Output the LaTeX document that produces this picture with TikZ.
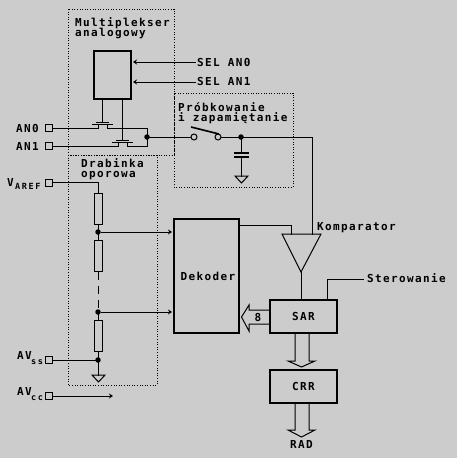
\documentclass[tikz,border=0pt]{standalone}
\usepackage{fontspec}
\usetikzlibrary{arrows.meta}
\newfontfamily\pixfont[LetterSpace=12.5]{DejaVu Sans Mono}
\newfontfamily\pixsub[LetterSpace=19]{DejaVu Sans Mono}
\definecolor{bgc}{HTML}{CCCCCC}
\tikzset{
  wire/.style={line width=1pt,line cap=rect},
  tipwire/.style={line width=1pt,-{Stealth[length=4pt,width=5pt]},shorten >=1pt},
  blockbox/.style={draw,line width=2pt,inner sep=0pt},
  zone/.style={draw,line width=1pt,dash pattern=on 1pt off 1.6pt},
  pinbox/.style={draw,line width=1pt,minimum size=7pt,inner sep=0pt},
  dotn/.style={circle,fill=black,minimum size=5.5pt,inner sep=0pt},
  resbox/.style={draw,line width=1pt,minimum width=8pt,minimum height=31pt,inner sep=0pt},
  contact/.style={circle,draw,line width=1pt,minimum size=6pt,inner sep=0pt},
  lab/.style={anchor=base west,inner sep=0pt,font=\fontsize{11}{13}\selectfont\pixfont\bfseries},
  labm/.style={anchor=base west,inner sep=0pt,align=left,font=\fontsize{11}{10}\selectfont\pixfont\bfseries,/utils/exec={\lineskiplimit=-10pt}},
  labc/.style={anchor=base,inner sep=0pt,font=\fontsize{11}{13}\selectfont\pixfont\bfseries},
  subl/.style={anchor=base west,inner sep=0pt,font=\fontsize{8.5}{10}\selectfont\pixsub\bfseries},
  gndt/.style={draw,line width=1pt,line join=miter}
}
\begin{document}
\begin{tikzpicture}[x=1pt,y=-1pt]
\useasboundingbox[fill=bgc] (0,0) rectangle (457,458);
% zones
\draw[zone] (68,9) rectangle (174,155);
\draw[zone] (68,155) rectangle (157,385);
\draw[zone] (174,93) rectangle (293,187);
% blocks
\node[blockbox,minimum width=37pt,minimum height=48pt] (mux) at (112.5,75) {};
\node[blockbox,minimum width=65pt,minimum height=114pt] (dek) at (206.5,276) {};
\node[blockbox,minimum width=67pt,minimum height=33pt] (sar) at (303.5,316.5) {};
\node[blockbox,minimum width=67pt,minimum height=33pt] (crr) at (303.5,386.5) {};
% pins
\node[pinbox] (pan0) at (48.5,128) {};
\node[pinbox] (pan1) at (48.5,146) {};
\node[pinbox] (pref) at (48.5,182.5) {};
\node[pinbox] (pss) at (48.5,360) {};
\node[pinbox] (pcc) at (48.5,396) {};
% SEL lines
\coordinate (sel0) at (196,62);
\coordinate (sel1) at (196,82);
\draw[tipwire] (sel0) -- (sel0 -| mux.east);
\draw[tipwire] (sel1) -- (sel1 -| mux.east);
% transistors
\coordinate (g0) at (102,122);
\coordinate (g1) at (122,140.5);
\coordinate (mo) at (147,128);
\coordinate (m1) at (147,146);
\node[dotn] (mj) at (147,137) {};
\draw[wire] (g0 |- mux.south) -- (g0);
\draw[wire] (g1 |- mux.south) -- (g1);
\draw[wire] (96,122) -- (108,122);
\draw[wire] (116,140.5) -- (128,140.5);
\draw[wire] (92,124.5) -- (112,124.5);
\draw[wire] (112,142.5) -- (132,142.5);
\draw[wire] (pan0.east) -- (98,128) -- (98,124.5);
\draw[wire] (107,124.5) -- (107,128) -- (mo) -- (m1) -- (127,146) -- (127,142.5);
\draw[wire] (pan1.east) -- (118,146) -- (118,142.5);
% switch & S/H
\node[contact] (swa) at (194,137) {};
\node[contact] (swb) at (218,137) {};
\node[dotn] (shj) at (241,137) {};
\coordinate (cmpin) at (312,137);
\draw[wire] (mj) -- (swa);
\draw[wire] (swb) -- (shj) -- (cmpin);
\draw[line width=1.6pt] (191,127) -- (219,134);
\coordinate (capa) at (241,153);
\coordinate (capb) at (241,157);
\coordinate (gs) at (241,176);
\draw[wire] (shj) -- (capa);
\draw[line width=2pt] (234,153) -- (249,153);
\draw[line width=2pt] (234,157) -- (249,157);
\draw[wire] (capb) -- (gs);
\draw[gndt] (235,176) -- (248,176) -- (241.5,183) -- cycle;
% ladder
\node[resbox] (r1) at (98,208.5) {};
\node[resbox] (r2) at (98,255.5) {};
\node[resbox] (r3) at (98,336) {};
\node[dotn] (j1) at (98,232) {};
\node[dotn] (j2) at (98,312) {};
\node[dotn] (j3) at (98,360) {};
\coordinate (lg) at (98,375);
\draw[wire] (pref.east) -- (pref.east -| r1.north) -- (r1.north);
\draw[wire] (r1.south) -- (j1) -- (r2.north);
\draw[line width=1pt,dash pattern=on 8pt off 6pt] (r2.south) -- (j2);
\draw[wire] (j2) -- (r3.north);
\draw[wire] (r3.south) -- (j3) -- (lg);
\draw[wire] (pss.east) -- (j3);
\draw[gndt] (92,375) -- (105,375) -- (98.5,382) -- cycle;
\draw[tipwire] (j1) -- (j1 -| dek.west);
\draw[tipwire] (j2) -- (j2 -| dek.west);
\coordinate (ccend) at (114,396);
\draw[tipwire] (pcc.east) -- (ccend);
% comparator
\coordinate (cl) at (282,234);
\coordinate (cr) at (321,234);
\coordinate (ct) at (301,272);
\draw[line width=1pt,line join=miter] (cl) -- (cr) -- (ct) -- cycle;
\draw[wire] (cmpin) -- (312,234);
\coordinate (dk) at (291,225);
\draw[wire] (dek.east |- dk) -- (dk) -- (291,234);
\draw[wire] (ct) -- (ct |- sar.north);
\coordinate (st) at (363,279);
\draw[wire] (327,299) -- (327,279) -- (st);
% bus arrows
\draw[line width=1pt,line join=miter] (sar.west |- 0,310) -- (249,310) -- (249,305) -- (241.5,317) -- (249,331) -- (249,324) -- (sar.west |- 0,324);
\draw[line width=1pt,line join=miter] (295,334) -- (295,361) -- (288,361) -- (301.5,367) -- (315,361) -- (309,361) -- (309,334);
\draw[line width=1pt,line join=miter] (295,404) -- (295,430) -- (288,430) -- (301.5,437) -- (315,430) -- (309,430) -- (309,404);
% texts
\node[labm] (tm) at (75,36.5) {Multiplekser\\analogowy};
\node[lab] (ts0) at (197,66) {SEL AN0};
\node[lab] (ts1) at (197,85) {SEL AN1};
\node[labm] (tp) at (178,121.5) {Próbkowanie\\i zapamiętanie};
\node[labm] (td) at (81,177) {Drabinka\\oporowa};
\node[lab] (tan0) at (16,132) {AN0};
\node[lab] (tan1) at (16,150) {AN1};
\node[lab] (tv) at (7,186) {V};
\node[subl] (tvs) at (15,189) {AREF};
\node[lab] (tas) at (17,359) {AV};
\node[subl] (tass) at (31,364) {ss};
\node[lab] (tac) at (17,395) {AV};
\node[subl] (tacc) at (31,400) {cc};
\node[labc] (tdek) at (208,280) {Dekoder};
\node[lab] (tk) at (317,230) {Komparator};
\node[lab] (tst) at (367,282) {Sterowanie};
\node[labc] (tsar) at (303.5,320) {SAR};
\node[labc] (tcrr) at (303.5,390) {CRR};
\node[labc] (t8) at (258,321) {8};
\node[labc] (trad) at (301.5,448) {RAD};
\end{tikzpicture}
\end{document}
